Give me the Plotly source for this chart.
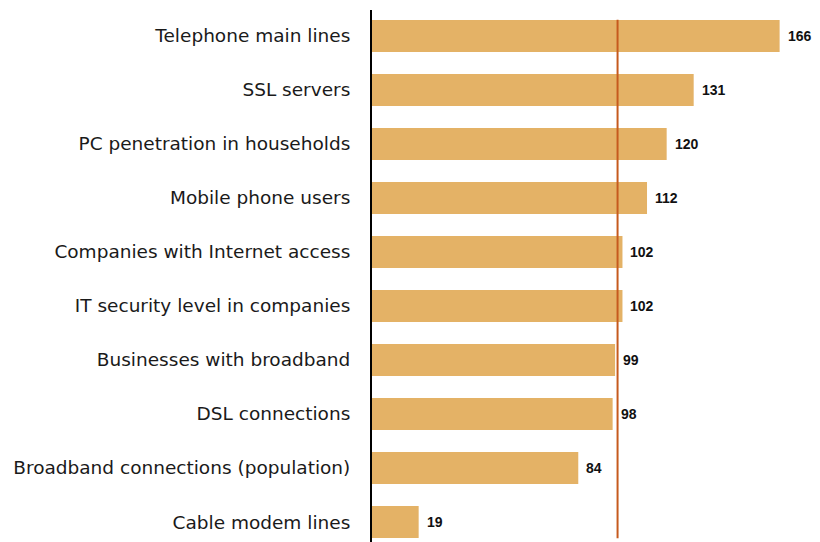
import plotly.graph_objects as go

categories = [
    "Telephone main lines",
    "SSL servers",
    "PC penetration in households",
    "Mobile phone users",
    "Companies with Internet access",
    "IT security level in companies",
    "Businesses with broadband",
    "DSL connections",
    "Broadband connections (population)",
    "Cable modem lines",
]
values = [166, 131, 120, 112, 102, 102, 99, 98, 84, 19]
reference_value = 100

bar_color = "#E4B266"
line_color = "#C65A1E"

fig = go.Figure()
fig.add_trace(go.Bar(
    x=values, y=categories, orientation="h",
    marker=dict(color=bar_color, line=dict(width=0)),
    width=0.59,
    hoverinfo="x+y",
))

for c, v in zip(categories, values):
    fig.add_annotation(
        x=v, y=c, text=f"<b>{v}</b>", showarrow=False,
        xanchor="left", xshift=6,
        font=dict(family="Liberation Sans, Arial, sans-serif", size=14, color="#111111"),
    )

fig.add_shape(
    type="line", xref="x", yref="y",
    x0=reference_value, x1=reference_value, y0=-0.3, y1=len(categories) - 0.7,
    line=dict(color=line_color, width=2),
)

fig.update_layout(
    width=820, height=542,
    margin=dict(l=372, r=6, t=10, b=0),
    paper_bgcolor="white", plot_bgcolor="white",
    showlegend=False,
    xaxis=dict(range=[0, 180], visible=False, fixedrange=True),
    yaxis=dict(
        type="category",
        range=[9.37, -0.481],
        showline=True, linecolor="black", linewidth=2,
        showgrid=False, zeroline=False, ticks="",
        ticklabelstandoff=16,
        tickfont=dict(family="DejaVu Sans, Verdana, sans-serif", size=18.5, color="#1a1a1a"),
    ),
)

fig.write_html("out.html")
